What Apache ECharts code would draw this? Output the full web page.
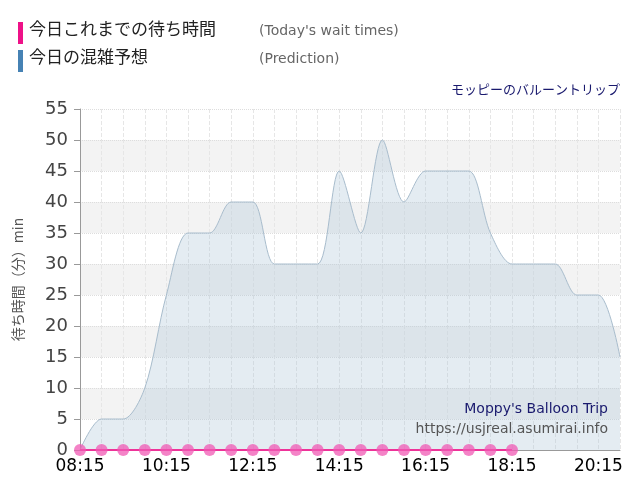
<!DOCTYPE html>
<html><head><meta charset="utf-8">
<script src="https://cdn.jsdelivr.net/npm/echarts@6/dist/echarts.min.js"></script>
<style>body{margin:0}#main{width:640px;height:500px}</style>
</head><body><div id="main"></div>
<script>
var times = ['08:15','08:45','09:15','09:45','10:15','10:45','11:15','11:45','12:15','12:45','13:15','13:45','14:15','14:45','15:15','15:45','16:15','16:45','17:15','17:45','18:15','18:45','19:15','19:45','20:15','20:45'];
var actual = [0,0,0,0,0,0,0,0,0,0,0,0,0,0,0,0,0,0,0,0,0];
var prediction = [0,5,5,10,25,35,35,40,40,30,30,30,45,35,50,40,45,45,45,35,30,30,30,25,25,15];

var myChart = echarts.init(document.getElementById('main'));
var font = '"DejaVu Sans", "Noto Sans CJK JP", sans-serif';
var jp = '"Noto Sans CJK JP", sans-serif';
myChart.setOption({
	animation : false,
	textStyle : { fontFamily : font },
	graphic : [
		{ type : 'rect', z : 100, left : 18, top : 22, shape : { width : 5, height : 22 }, style : { fill : '#ee1188' } },
		{ type : 'text', z : 100, left : 29, top : 20, style : { text : '今日これまでの待ち時間', font : '17px ' + jp, fill : '#222' } },
		{ type : 'text', z : 100, left : 259, top : 24, style : { text : "(Today's wait times)", font : '14px "DejaVu Sans"', fill : '#666' } },
		{ type : 'rect', z : 100, left : 18, top : 50, shape : { width : 5, height : 22 }, style : { fill : '#4682b4' } },
		{ type : 'text', z : 100, left : 29, top : 48, style : { text : '今日の混雑予想', font : '17px ' + jp, fill : '#222' } },
		{ type : 'text', z : 100, left : 259, top : 52, style : { text : '(Prediction)', font : '14px "DejaVu Sans"', fill : '#666' } },
		{ type : 'text', z : 100, right : 20, top : 83, style : { text : 'モッピーのバルーントリップ', font : '13px ' + jp, fill : '#1a1a6e' } },
		{ type : 'text', z : 100, right : 32, top : 402, style : { text : "Moppy's Balloon Trip", font : '14px "DejaVu Sans"', fill : '#1a1a6e' } },
		{ type : 'text', z : 100, right : 32, top : 422, style : { text : 'https://usjreal.asumirai.info', font : '14px "DejaVu Sans"', fill : '#555' } }
	],
	grid : { left : 80, right : 20, top : 109, bottom : 50 },
	xAxis : {
		type : 'category',
		data : times,
		boundaryGap : false,
		axisLine : { lineStyle : { color : '#999' } },
		axisTick : { show : false },
		axisLabel : { interval : 3, color : '#000', fontSize : 17, margin : 8 },
		splitLine : { show : true, interval : 0, lineStyle : { color : '#e6e6e6', type : 'dashed' } }
	},
	yAxis : {
		type : 'value',
		min : 0, max : 55, interval : 5,
		name : '待ち時間（分）min',
		nameLocation : 'middle',
		nameGap : 55,
		nameTextStyle : { color : '#555', fontSize : 14, fontFamily : jp },
		axisLine : { show : true, lineStyle : { color : '#999' } },
		axisTick : { show : true, length : 6, lineStyle : { color : '#999' } },
		axisLabel : { color : '#444', fontSize : 18, margin : 12 },
		splitLine : { lineStyle : { color : '#ddd', type : 'dotted' } },
		splitArea : { show : true, areaStyle : { color : ['#ffffff', '#f3f3f3'] } }
	},
	series : [ {
		type : 'line',
		data : prediction,
		smooth : 0.3,
		symbol : 'none',
		lineStyle : { color : '#a8bccc', width : 1 },
		areaStyle : { color : 'rgba(170,195,215,0.45)' }
	}, {
		type : 'line',
		data : actual,
		symbol : 'circle',
		symbolSize : 12,
		itemStyle : { color : 'rgba(240,90,180,0.75)' },
		lineStyle : { color : '#ee3399', width : 2 }
	} ]
});
</script></body></html>
